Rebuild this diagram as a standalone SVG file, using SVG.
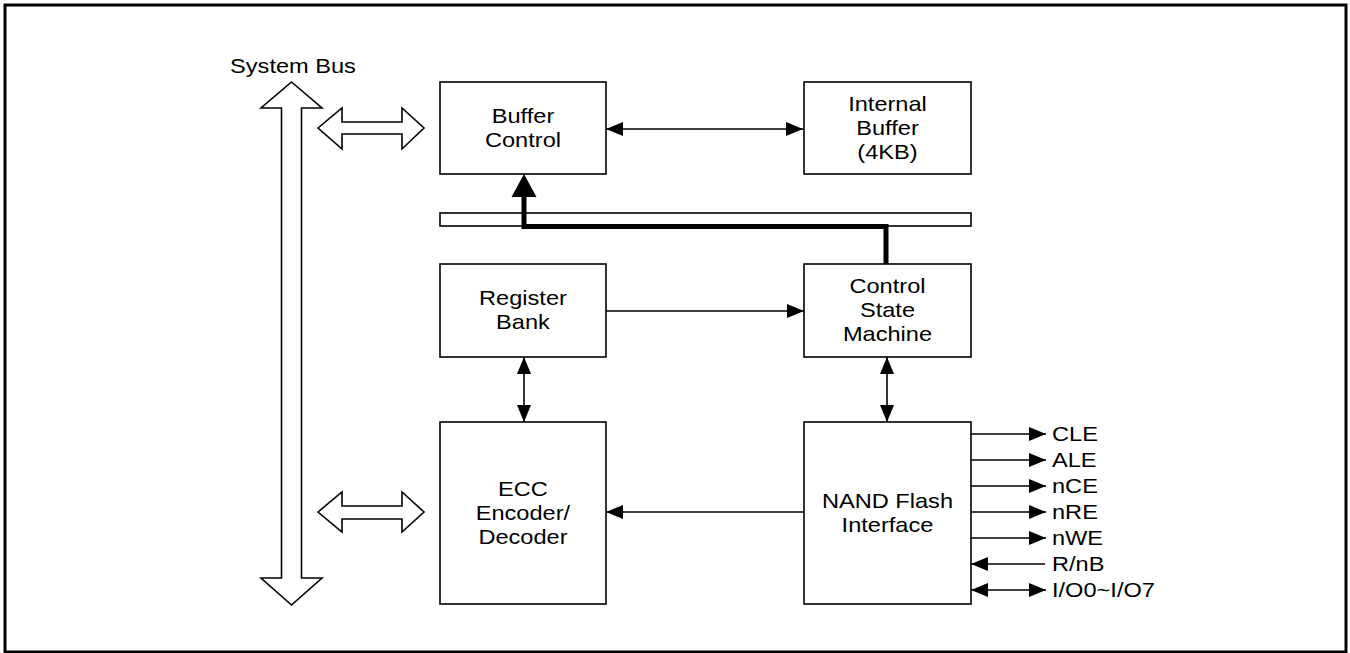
<svg xmlns="http://www.w3.org/2000/svg" width="1350" height="653" viewBox="0 0 1350 653">
<defs>
<style>
.box{fill:#fff;stroke:#000;stroke-width:1.6}
.ln{fill:none;stroke:#000;stroke-width:1.6}
.big{fill:#fff;stroke:#000;stroke-width:1.6;stroke-linejoin:miter}
.t{font-family:"Liberation Sans",Arial,sans-serif;font-size:20px;fill:#000;text-anchor:middle;transform-box:fill-box;transform-origin:center;transform:scaleX(1.18)}
.l{font-family:"Liberation Sans",Arial,sans-serif;font-size:20px;fill:#000;text-anchor:start;transform-box:fill-box;transform-origin:left center;transform:scaleX(1.18)}
</style>
<marker id="arr" markerUnits="userSpaceOnUse" markerWidth="18" markerHeight="14" viewBox="0 0 17 14" refX="17" refY="7" orient="auto-start-reverse">
<path d="M0,0 L17,7 L0,14 z" fill="#000"/>
</marker>
</defs>
<rect x="5" y="5" width="1341" height="647" fill="#fff" stroke="#000" stroke-width="3"/>

<g id="system-bus">
<polygon class="big" points="291.5,82 322,108 301.5,108 301.5,578 322,578 291.5,605 261,578 281.5,578 281.5,108 261,108"/>
<text class="t" x="293" y="73">System Bus</text>
</g>

<g id="bus-link-top">
<polygon class="big" points="318,128 342,108 342,122 402,122 402,108 424,128 402,149 402,134 342,134 342,149"/>
</g>
<g id="bus-link-bottom">
<polygon class="big" points="318,512 342,492 342,506 402,506 402,492 424,512 402,532 402,519 342,519 342,532"/>
</g>

<g id="buffer-control">
<rect class="box" x="440" y="82" width="166" height="92"/>
<text class="t" x="523" y="123">Buffer</text>
<text class="t" x="523" y="147">Control</text>
</g>

<g id="internal-buffer">
<rect class="box" x="804" y="82" width="167" height="92"/>
<text class="t" x="887.5" y="111">Internal</text>
<text class="t" x="887.5" y="135">Buffer</text>
<text class="t" x="887.5" y="159">(4KB)</text>
</g>

<g id="bus-bar">
<rect class="box" x="440" y="213" width="531" height="13"/>
</g>

<g id="register-bank">
<rect class="box" x="440" y="264" width="166" height="93"/>
<text class="t" x="523" y="305.5">Register</text>
<text class="t" x="523" y="329.5">Bank</text>
</g>

<g id="control-state-machine">
<rect class="box" x="804" y="264" width="167" height="93"/>
<text class="t" x="887.5" y="293.5">Control</text>
<text class="t" x="887.5" y="317.5">State</text>
<text class="t" x="887.5" y="341.5">Machine</text>
</g>

<g id="ecc">
<rect class="box" x="440" y="422" width="166" height="182"/>
<text class="t" x="523" y="496">ECC</text>
<text class="t" x="523" y="520">Encoder/</text>
<text class="t" x="523" y="544">Decoder</text>
</g>

<g id="nand-flash-interface">
<rect class="box" x="804" y="422" width="167" height="182"/>
<text class="t" x="887.5" y="508">NAND Flash</text>
<text class="t" x="887.5" y="532">Interface</text>
</g>

<g id="connectors">
<line class="ln" x1="606" y1="129" x2="803" y2="129" marker-start="url(#arr)" marker-end="url(#arr)"/>
<line class="ln" x1="606" y1="311" x2="804" y2="311" marker-end="url(#arr)"/>
<line class="ln" x1="524" y1="357" x2="524" y2="422" marker-start="url(#arr)" marker-end="url(#arr)"/>
<line class="ln" x1="887" y1="357" x2="887" y2="422" marker-start="url(#arr)" marker-end="url(#arr)"/>
<line class="ln" x1="804" y1="512" x2="606" y2="512" marker-end="url(#arr)"/>
<polyline points="886,264 886,226.5 524,226.5 524,196" fill="none" stroke="#000" stroke-width="5" stroke-linejoin="miter"/>
<polygon points="524,174 536.5,197 511.5,197" fill="#000"/>
<line class="ln" x1="971" y1="434" x2="1046" y2="434" marker-end="url(#arr)"/>
<line class="ln" x1="971" y1="460" x2="1046" y2="460" marker-end="url(#arr)"/>
<line class="ln" x1="971" y1="486" x2="1046" y2="486" marker-end="url(#arr)"/>
<line class="ln" x1="971" y1="512" x2="1046" y2="512" marker-end="url(#arr)"/>
<line class="ln" x1="971" y1="538" x2="1046" y2="538" marker-end="url(#arr)"/>
<line class="ln" x1="1045" y1="564" x2="971" y2="564" marker-end="url(#arr)"/>
<line class="ln" x1="971" y1="590" x2="1046" y2="590" marker-start="url(#arr)" marker-end="url(#arr)"/>
</g>

<g id="signal-labels">
<text class="l" x="1052" y="441">CLE</text>
<text class="l" x="1052" y="467">ALE</text>
<text class="l" x="1052" y="493">nCE</text>
<text class="l" x="1052" y="519">nRE</text>
<text class="l" x="1052" y="545">nWE</text>
<text class="l" x="1052" y="571">R/nB</text>
<text class="l" x="1052" y="597">I/O0~I/O7</text>
</g>
</svg>
